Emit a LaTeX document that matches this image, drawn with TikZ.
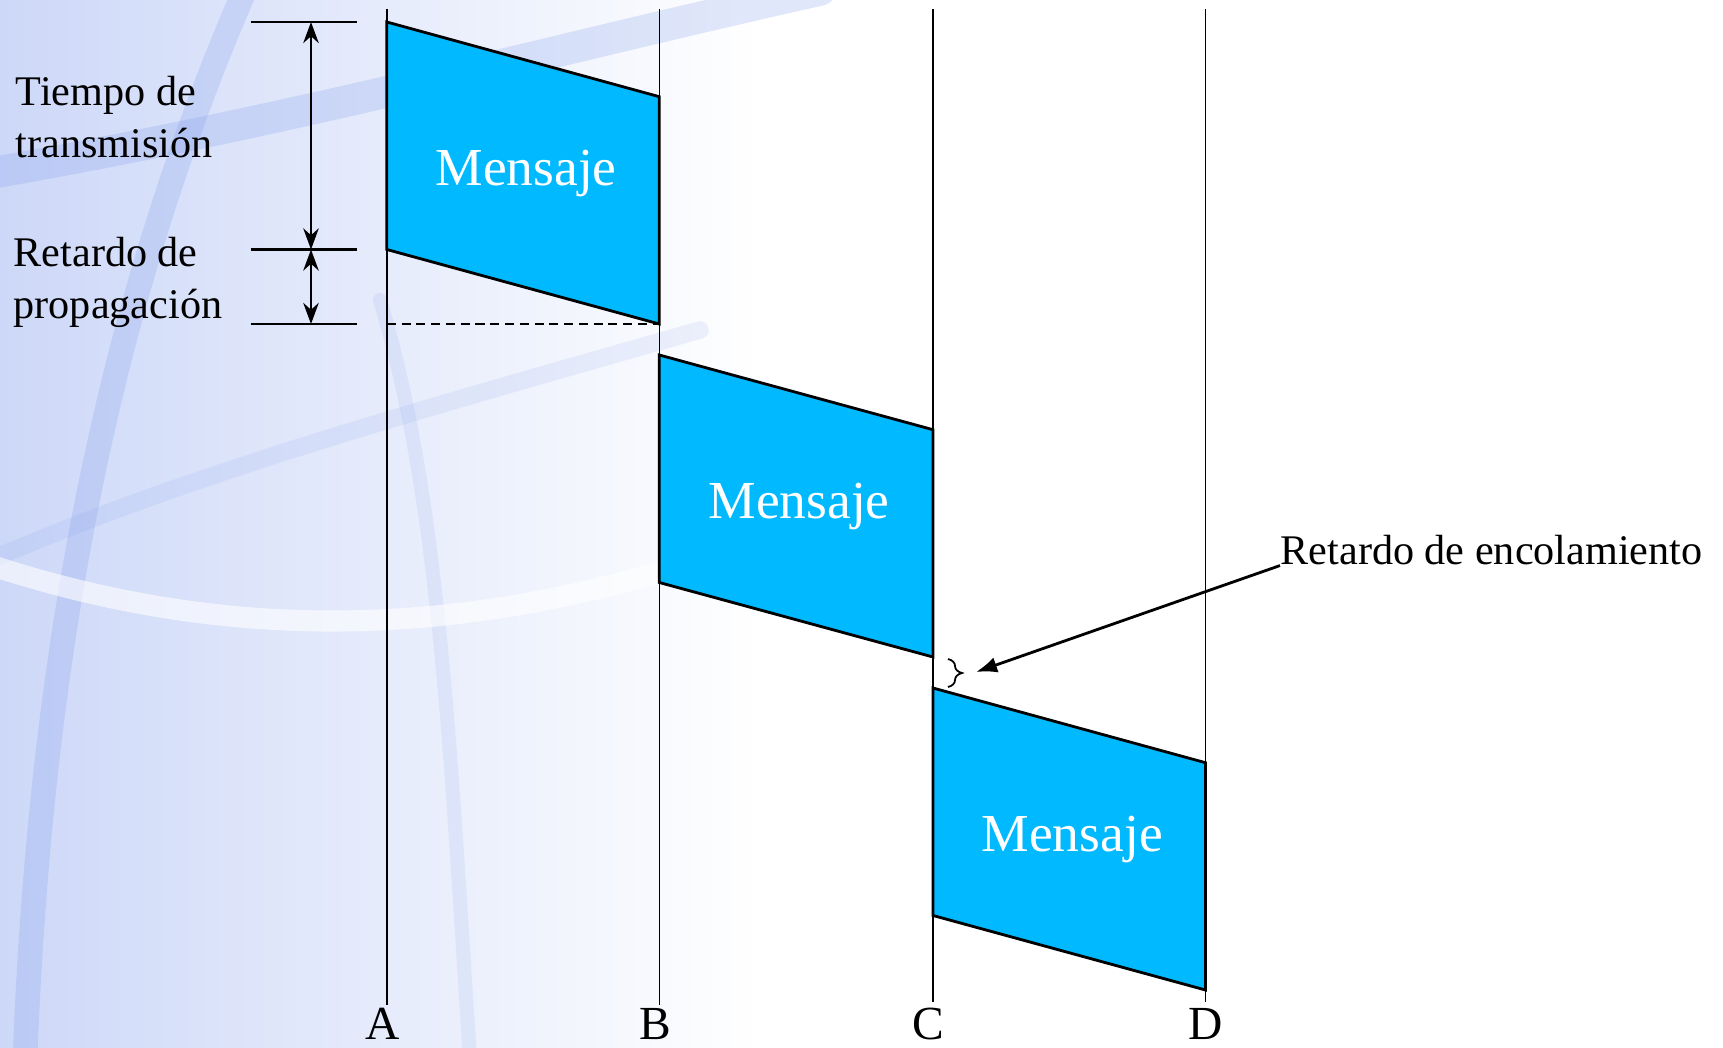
\documentclass[tikz,border=0pt]{standalone}
\usepackage{fontspec}
\setmainfont{Liberation Serif}
\usetikzlibrary{arrows.meta,positioning,decorations.pathreplacing,calc}

\definecolor{msgblue}{RGB}{0,185,255}
\definecolor{bgblue}{RGB}{205,216,248}
\definecolor{swblue}{RGB}{120,150,235}

\begin{document}
\begin{tikzpicture}[
  x=0.01cm, y=-0.01cm,
  >=Stealth,
  lane/.style={line width=0.45pt},
  msg/.style={draw, line width=0.8pt, fill=msgblue},
  msgtext/.style={text=white, inner sep=0pt, font=\fontsize{15.2}{18}\selectfont},
  lbl/.style={font=\fontsize{12}{14.8}\selectfont, align=left, inner sep=0pt, anchor=west},
  lanelbl/.style={font=\fontsize{13.5}{16}\selectfont, inner sep=0pt, anchor=base},
  tick/.style={line width=0.6pt},
  dim/.style={{Stealth[length=6pt,width=4.4pt]}-{Stealth[length=6pt,width=4.4pt]}, line width=0.7pt},
  swoosh/.style={swblue, opacity=0.22, line cap=round},
]
  \useasboundingbox (0,0) rectangle (1723,1048);
  \clip (0,0) rectangle (1723,1048);

  % background
  \fill[white] (0,0) rectangle (1723,1048);
  \fill[left color=bgblue, right color=white] (0,0) rectangle (760,1048);
  \draw[swoosh, line width=9pt] (-20,175) .. controls (300,120) and (550,50) .. (820,-10);
  \draw[swoosh, line width=7pt] (245,-10) .. controls (110,300) and (40,650) .. (25,1060);
  \draw[swoosh, line width=5pt, opacity=0.12] (-10,560) .. controls (200,470) and (420,410) .. (700,330);
  \draw[swoosh, line width=4pt, opacity=0.12] (470,1060) .. controls (450,750) and (440,500) .. (380,300);
  \draw[white, opacity=0.6, line width=6pt] (-10,565) .. controls (250,650) and (480,630) .. (700,560);

  % lanes
  \foreach \n/\x/\yb/\dx in {A/386.8/1005/-4, B/659.3/1005/-4, C/933/1002/-5, D/1205.5/1002/0} {
    \coordinate (\n top) at (\x,9);
    \coordinate (\n bot) at (\x,\yb);
    \draw[lane] (\n top) -- (\n bot);
    \node[lanelbl] (\n lbl) at (\x+\dx,1039) {\n};
  }

  % messages
  \foreach \i/\xa/\xb/\y in {1/386.8/659.3/22, 2/659.3/933/355, 3/933/1205.5/688} {
    \draw[msg] (\xa,\y) -- (\xb,\y+74.7) -- (\xb,\y+302) -- (\xa,\y+227.5) -- cycle;
    \node[msgtext] (msg\i) at ({(\xa+\xb)/2+3},\y+151) {Mensaje};
  }

  % dimension marks
  \coordinate (t0) at (311,22);
  \coordinate (t1) at (311,249.5);
  \coordinate (t2) at (311,324);
  \foreach \t in {t0,t1,t2}
    \draw[tick] ($(\t)+(-60.5,0)$) -- ($(\t)+(46,0)$);
  \draw[dim] (t0) -- (t1);
  \draw[dim] (t1) -- (t2);
  \draw[dash pattern=on 2.6pt off 1.6pt, line width=0.5pt] (386.8,324) -- (659.3,324);

  \node[lbl] (ttx) at (15,117) {Tiempo de\\transmisión};
  \node[lbl] (tprop) at (13,282) {Retardo de\\propagación};

  % queueing delay
  \draw[line width=0.5pt, decorate, decoration={brace, amplitude=4pt}]
    (948,659) -- (948,687) coordinate[midway] (qmid);
  \coordinate (qtip) at (976,672);
  \node[lbl] (queue) at (1280,550) {Retardo de encolamiento};
  \draw[-{Latex[length=6pt,width=4.5pt]}, line width=0.8pt] (queue.south west) -- (qtip);
\end{tikzpicture}
\end{document}
